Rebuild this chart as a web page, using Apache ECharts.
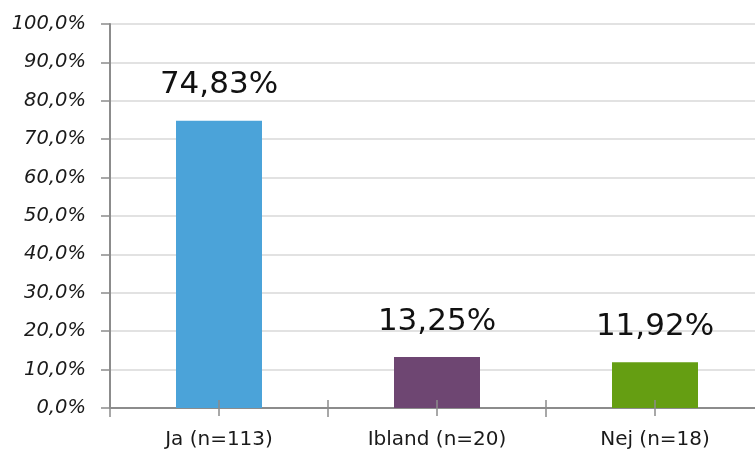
<!DOCTYPE html>
<html>
<head>
<meta charset="utf-8">
<style>
html,body{margin:0;padding:0;background:#fff;}
#chart{width:755px;height:453px;}
</style>
<script src="https://cdn.jsdelivr.net/npm/echarts@6/dist/echarts.min.js"></script>
</head>
<body>
<div id="chart"></div>
<script>
const categories = ['Ja (n=113)', 'Ibland (n=20)', 'Nej (n=18)'];
const values = [74.83, 13.25, 11.92];
const barColors = ['#4BA3D9', '#6E4672', '#659E12'];
const yMin = 0, yMax = 100, yStep = 10;

const chart = echarts.init(document.getElementById('chart'));
const gridBox = {left: 110, top: 24, width: 654, height: 384, containLabel: false, outerBoundsMode: 'none'};
const axisGray = '#8c8c8c';

function hiddenY(gi) {
  return {type: 'value', gridIndex: gi, min: yMin, max: yMax, interval: yStep, show: false};
}
function tickX(gi, align, inside, z) {
  return {
    type: 'category', gridIndex: gi, data: categories, z: z,
    axisLine: {show: false},
    axisLabel: {show: false},
    splitLine: {show: false},
    axisTick: {show: true, alignWithLabel: align, inside: inside, length: 8,
      lineStyle: {color: axisGray, width: 1.5}}
  };
}

chart.setOption({
  animation: false,
  grid: [gridBox, gridBox, gridBox, gridBox],
  xAxis: [
    {
      type: 'category', gridIndex: 0, data: categories,
      axisLine: {show: true, lineStyle: {color: axisGray, width: 2}},
      axisTick: {show: true, alignWithLabel: false, length: 9, lineStyle: {color: axisGray, width: 1.5}},
      axisLabel: {margin: 22, color: '#1a1a1a', fontSize: 20, fontFamily: 'DejaVu Sans'}
    },
    tickX(1, false, true, 5),
    tickX(2, true, false, 5),
    tickX(3, true, true, 5)
  ],
  yAxis: [
    {
      type: 'value', gridIndex: 0, min: yMin, max: yMax, interval: yStep,
      axisLine: {show: true, lineStyle: {color: axisGray, width: 2}},
      axisTick: {show: true, length: 9, lineStyle: {color: axisGray, width: 1.5}},
      splitLine: {show: true, lineStyle: {color: '#d9d9d9', width: 1.5}},
      axisLabel: {
        margin: 24, color: '#1a1a1a', fontSize: 19.5, fontStyle: 'italic', fontFamily: 'DejaVu Sans',
        formatter: v => v.toFixed(1).replace('.', ',') + '%'
      }
    },
    hiddenY(1), hiddenY(2), hiddenY(3)
  ],
  series: [{
    type: 'bar', xAxisIndex: 0, yAxisIndex: 0,
    barWidth: 86,
    data: values.map((v, i) => ({value: v, itemStyle: {color: barColors[i]}})),
    label: {
      show: true, position: 'top', distance: 20,
      color: '#111', fontSize: 31, fontFamily: 'DejaVu Sans',
      formatter: p => p.value.toFixed(2).replace('.', ',') + '%'
    }
  }]
});
</script>
</body>
</html>
